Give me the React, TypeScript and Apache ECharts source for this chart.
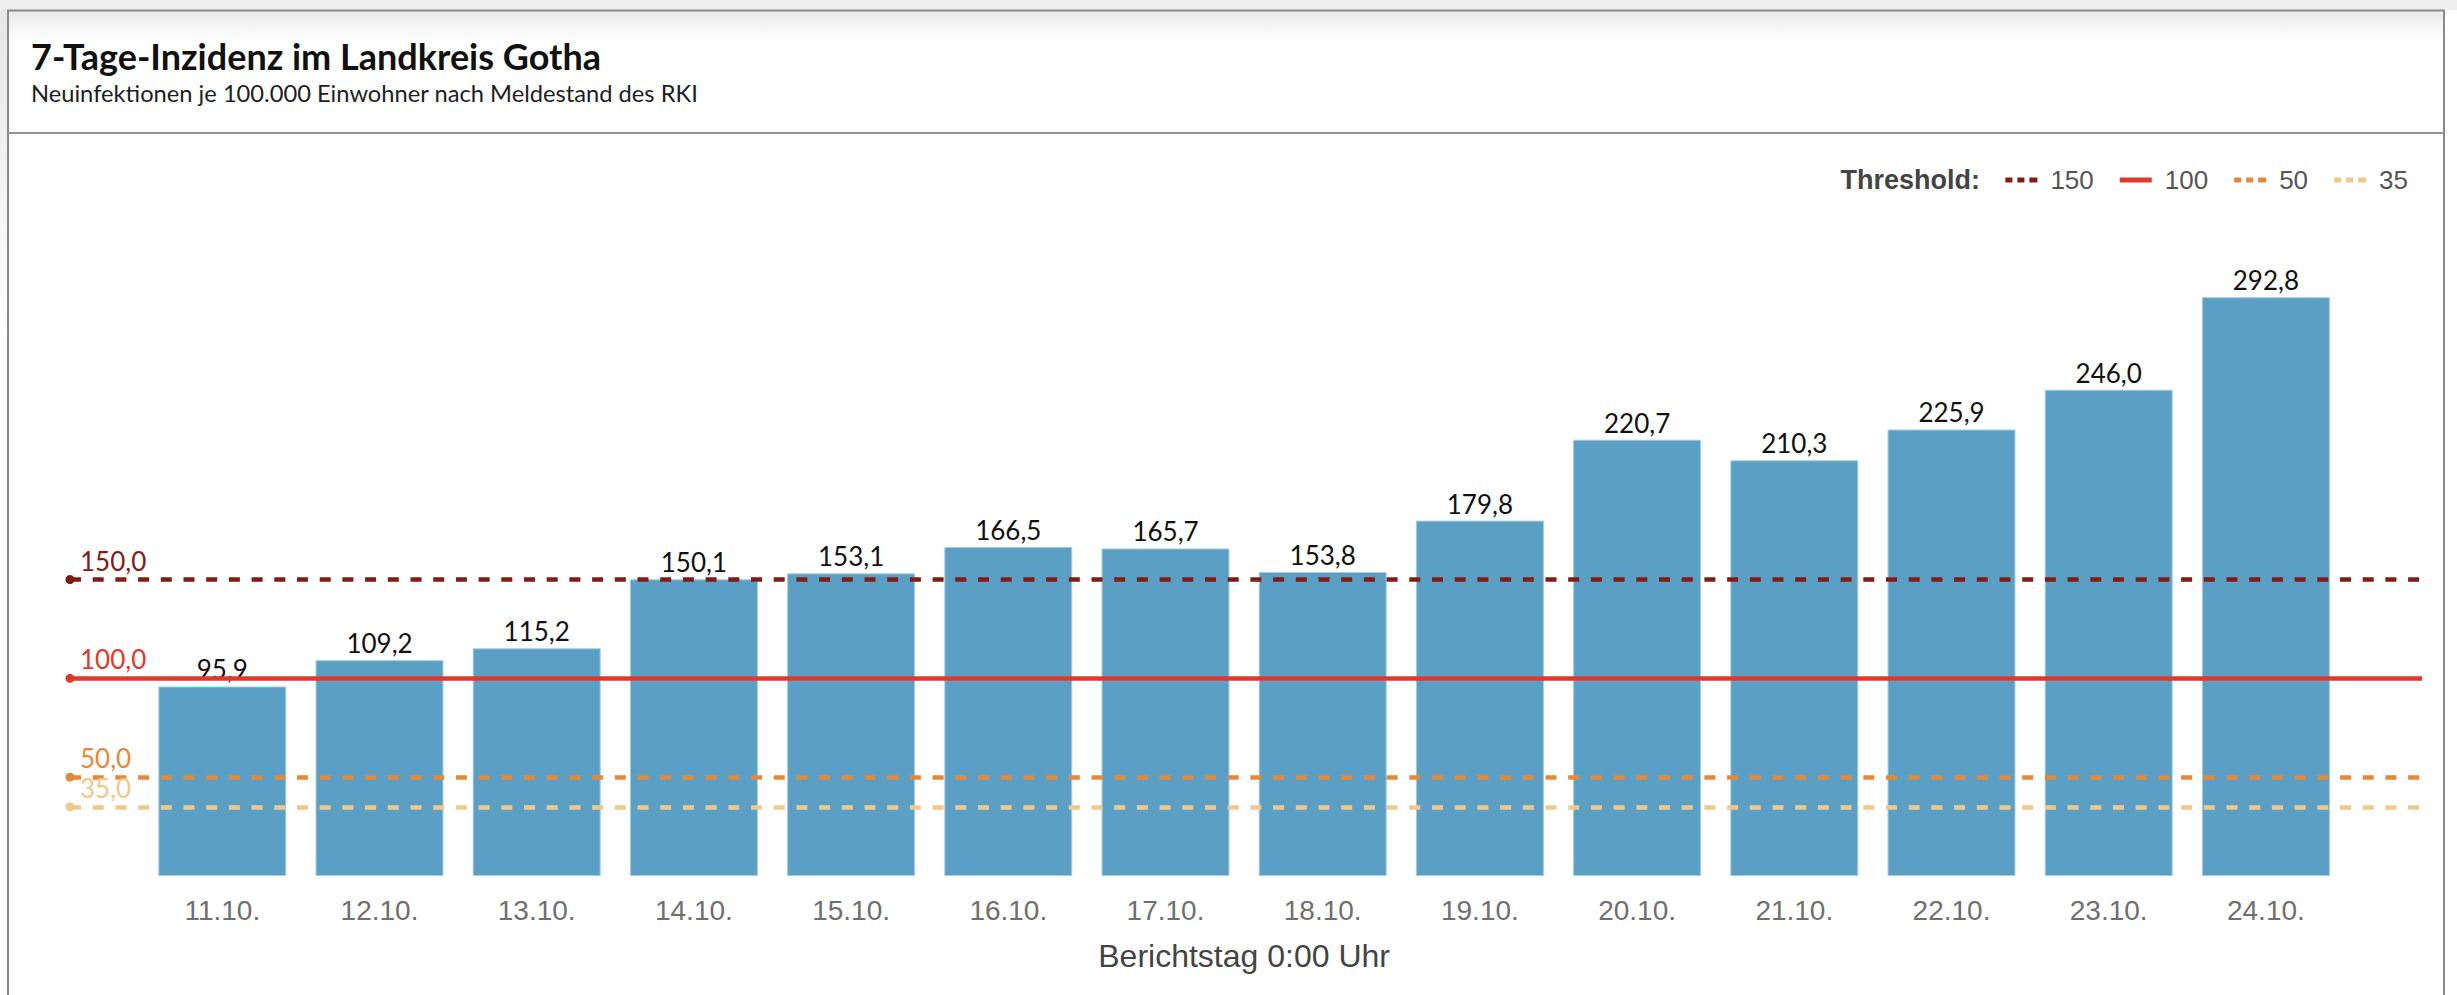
import React, { useEffect, useRef } from "react";
import * as echarts from "echarts";

const categories = ["11.10.", "12.10.", "13.10.", "14.10.", "15.10.", "16.10.", "17.10.", "18.10.", "19.10.", "20.10.", "21.10.", "22.10.", "23.10.", "24.10."];
const incidence = [95.9, 109.2, 115.2, 150.1, 153.1, 166.5, 165.7, 153.8, 179.8, 220.7, 210.3, 225.9, 246.0, 292.8];
const thresholds = [150, 100, 50, 35];
const thresholdNames = ["150", "100", "50", "35"];

const thresholdColors = ["#7f1c15", "#e0392c", "#e4883a", "#efc98b"];
const thresholdDashed = [true, false, true, true];

const LATO = "Lato, 'Noto Sans', sans-serif";
const ARIAL = "'Liberation Sans', Arial, Helvetica, sans-serif";

const fmt = (v: number) => v.toFixed(1).replace(".", ",");

const dashIcon = "path://M0,0h7v5h-7z M12,0h7v5h-7z M24,0h8v5h-8z";
const solidIcon = "path://M0,0h32v5h-32z";

export default function App() {
  const ref = useRef<HTMLDivElement>(null);
  useEffect(() => {
    if (!ref.current) return;
    const chart = echarts.init(ref.current, undefined, { renderer: "svg" });
    const lastCat = categories[categories.length - 1];
    const thresholdSeries = thresholds.map((t, i) => ({
      name: thresholdNames[i],
      type: "line",
      data: [],
      color: thresholdColors[i],
      silent: true,
      markLine: {
        silent: true,
        symbol: ["circle", "none"],
        symbolSize: 9,
        z: 5,
        lineStyle: {
          color: thresholdColors[i],
          width: 4.5,
          type: thresholdDashed[i] ? [11, 11.7] : "solid",
        },
        label: {
          show: true,
          position: "insideStartTop",
          distance: [10, 6],
          formatter: () => fmt(t),
          color: thresholdColors[i],
          fontFamily: LATO,
          fontSize: 26,
        },
        data: [
          [
            { xAxis: categories[0], yAxis: t, x: 70 },
            { xAxis: lastCat, yAxis: t, x: 2422 },
          ],
        ],
      },
    }));

    const topShade = new echarts.graphic.LinearGradient(0, 0, 0, 1, [
      { offset: 0, color: "#e9e9e9" },
      { offset: 1, color: "#ffffff" },
    ]);
    const leftShade = new echarts.graphic.LinearGradient(0, 0, 0, 1, [
      { offset: 0, color: "#e6e6e6" },
      { offset: 1, color: "#ffffff" },
    ]);

    chart.setOption({
      animation: false,
      backgroundColor: "#ffffff",
      title: {
        text: "7-Tage-Inzidenz im Landkreis Gotha",
        subtext: "Neuinfektionen je 100.000 Einwohner nach Meldestand des RKI",
        left: 31,
        top: 38,
        padding: 0,
        itemGap: 7.15,
        textStyle: { fontFamily: LATO, fontWeight: "bold", fontSize: 36, lineHeight: 36, color: "#111111" },
        subtextStyle: { fontFamily: LATO, fontSize: 23.7, lineHeight: 23.7, color: "#1e1e1e" },
      },
      legend: {
        right: 49,
        top: 167,
        padding: 0,
        itemWidth: 32,
        itemHeight: 5,
        itemGap: 26,
        selectedMode: false,
        textStyle: { fontFamily: ARIAL, fontSize: 26, color: "#555555", padding: [0, 0, 0, 8] },
        data: thresholdNames.map((n, i) => ({ name: n, icon: thresholdDashed[i] ? dashIcon : solidIcon })),
      },
      graphic: [
        { type: "rect", silent: true, shape: { x: 0, y: 0, width: 2457, height: 10 }, style: { fill: "#efefef" } },
        { type: "rect", silent: true, shape: { x: 0, y: 10, width: 7, height: 330 }, style: { fill: leftShade } },
        { type: "rect", silent: true, shape: { x: 9, y: 11, width: 2434, height: 30 }, style: { fill: topShade } },
        { type: "rect", silent: true, shape: { x: 8, y: 10.5, width: 2436, height: 1100 }, style: { fill: "none", stroke: "#8a8a8a", lineWidth: 2 } },
        { type: "line", silent: true, shape: { x1: 8, y1: 133, x2: 2444, y2: 133 }, style: { stroke: "#949494", lineWidth: 2 } },
        {
          type: "text",
          right: 477,
          top: 166,
          silent: true,
          style: { text: "Threshold:", font: `bold 27px ${ARIAL}`, fill: "#444444" },
        },
      ],
      grid: { left: 143.7, right: 112.5, top: 283, bottom: 119 },
      xAxis: {
        type: "category",
        data: categories,
        axisLine: { show: false },
        axisTick: { show: false },
        axisLabel: { margin: 20, fontFamily: ARIAL, fontSize: 28, color: "#6f6f6f" },
        name: "Berichtstag 0:00 Uhr",
        nameLocation: "middle",
        nameGap: 64,
        nameTextStyle: { fontFamily: ARIAL, fontSize: 32, color: "#444444" },
      },
      yAxis: { type: "value", min: 0, max: 300, show: false, splitLine: { show: false } },
      series: [
        {
          name: "Inzidenz",
          type: "bar",
          data: incidence,
          barCategoryGap: "18.6%",
          itemStyle: { color: "#5ba0c4", borderColor: "#a4cbe0", borderWidth: 1 },
          label: {
            show: true,
            position: "top",
            distance: 4,
            formatter: (p: any) => fmt(p.value),
            fontFamily: LATO,
            fontSize: 26,
            color: "#111111",
          },
          z: 2,
        },
        ...thresholdSeries,
      ],
    });
    return () => chart.dispose();
  }, []);
  return (
    <div style={{ position: "fixed", left: 0, top: 0, width: 2457, height: 995, background: "#fff" }}>
      <div ref={ref} style={{ width: 2457, height: 995 }} />
    </div>
  );
}
